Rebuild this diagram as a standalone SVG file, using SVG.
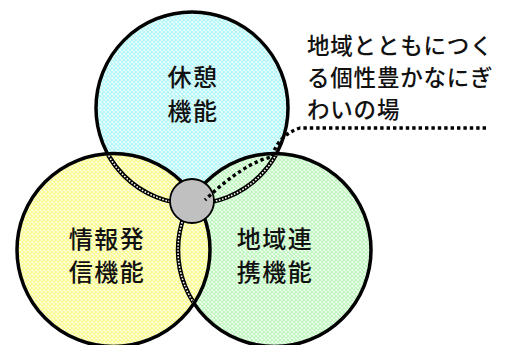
<svg xmlns="http://www.w3.org/2000/svg" width="507" height="345" viewBox="0 0 507 345">
<style>
.ring{stroke:#000;stroke-width:3.5}
.hatch{fill:none;stroke:#000;stroke-width:4.5}
.hatchw{fill:none;stroke:#fffff0;stroke-width:1.6;stroke-dasharray:1.6 1.6}
.lbl{font-family:"Noto Sans CJK JP","Noto Sans CJK SC",sans-serif;font-size:24px;font-weight:500;fill:#111;text-anchor:middle;letter-spacing:1.5px}
.note{font-family:"Noto Sans CJK JP","Noto Sans CJK SC",sans-serif;font-size:22.5px;font-weight:500;fill:#111;letter-spacing:0.8px}
</style>
<defs>
<pattern id="pBlue" width="4" height="4" patternUnits="userSpaceOnUse">
<rect width="4" height="4" fill="#fff"/>
<path d="M0,0 L4,4 M4,0 L0,4" stroke="#b0f6f6" stroke-width="1.3"/>
</pattern>
<pattern id="pYellow" width="4" height="4" patternUnits="userSpaceOnUse">
<rect width="4" height="4" fill="#fff"/>
<path d="M0,0 L4,4 M4,0 L0,4" stroke="#fafa88" stroke-width="1.3"/>
</pattern>
<pattern id="pGreen" width="4" height="4" patternUnits="userSpaceOnUse">
<rect width="4" height="4" fill="#fff"/>
<path d="M0,0 L4,4 M4,0 L0,4" stroke="#bcf6bc" stroke-width="1.3"/>
</pattern>
<clipPath id="inYellow"><circle cx="113.5" cy="250" r="94.7"/></clipPath>
<clipPath id="inGreen"><circle cx="274.5" cy="250" r="94.7"/></clipPath>
</defs>
<g id="node-rest">
<circle class="ring" cx="192" cy="108" r="96" fill="url(#pBlue)"/>
</g>
<g id="node-region">
<circle class="ring" cx="274.5" cy="250" r="96.5" fill="url(#pGreen)"/>
</g>
<g id="node-info">
<circle class="ring" cx="113.5" cy="250" r="96.5" fill="url(#pYellow)"/>
</g>
<g id="boundaries">
<g clip-path="url(#inYellow)">
<circle class="hatch" cx="192" cy="108" r="96"/>
<circle class="hatchw" cx="192" cy="108" r="96"/>
<circle class="hatch" cx="274.5" cy="250" r="96.5"/>
<circle class="hatchw" cx="274.5" cy="250" r="96.5"/>
</g>
<g clip-path="url(#inGreen)">
<circle class="hatch" cx="192" cy="108" r="96"/>
<circle class="hatchw" cx="192" cy="108" r="96"/>
</g>
</g>
<g id="node-center">
<circle cx="192" cy="201" r="22" fill="#c0c0c0" stroke="#000" stroke-width="1.8"/>
</g>
<g id="connectors">
<path d="M486,128 L300,128 Q278,135 272,157 Q245,162 205,200" fill="none" stroke="#000" stroke-width="3.4" stroke-dasharray="3.4 3"/>
</g>
<g id="labels">
<text class="lbl" x="193" y="86">休憩</text>
<text class="lbl" x="193" y="120">機能</text>
<text class="lbl" x="107" y="248">情報発</text>
<text class="lbl" x="107" y="281">信機能</text>
<text class="lbl" x="275" y="248">地域連</text>
<text class="lbl" x="275" y="281">携機能</text>
<text class="note" x="307" y="54">地域とともにつく</text>
<text class="note" x="307" y="86">る個性豊かなにぎ</text>
<text class="note" x="307" y="118">わいの場</text>
</g>
</svg>
